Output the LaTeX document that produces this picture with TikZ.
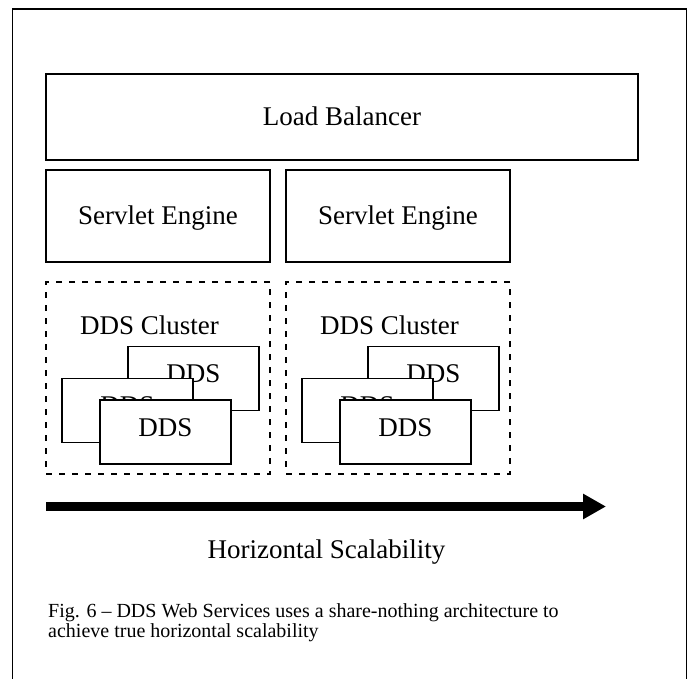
\documentclass[tikz,border=0pt]{standalone}
\usepackage{fontspec}
\setmainfont{Liberation Serif}
\usetikzlibrary{arrows.meta}
\tikzset{
	box/.style={draw, line width=1.3pt, inner sep=0pt, minimum width=224pt, minimum height=92pt, text height=18pt, text depth=0pt, font=\fontsize{27}{27}\selectfont},
	ddsbox/.style={box, fill=white, minimum width=131pt, minimum height=64pt, text depth=10pt},
	clusterbox/.style={draw, line width=1.3pt, dash pattern=on 6pt off 7pt, inner sep=0pt, minimum width=224pt, minimum height=192pt},
	txt/.style={inner sep=0pt, text height=18pt, text depth=0pt, font=\fontsize{27}{27}\selectfont}
}

\begin{document}
\begin{tikzpicture}[x=1pt, y=-1pt]
			%%%%% START %%%%%
			
			\useasboundingbox (0, 0) rectangle (693, 679);
			\draw[line width=1.3pt] (12.5, 679) -- (12.5, 9) -- (686.5, 9) -- (686.5, 679);
			
			\node[box, minimum width=592pt, minimum height=86pt] (balancer) at (342, 117) {Load Balancer};
			
			\node[box] (engineA) at (158, 216) {Servlet Engine};
			\node[box] (engineB) at (398, 216) {Servlet Engine};
			
			\node[clusterbox] (clusterA) at (158, 378) {};
			\node[txt] (clusternameA) at (149.5, 325) {DDS Cluster};
			\node[ddsbox] (ddsA1) at (193.5, 378.5) {DDS};
			\node[ddsbox] (ddsA2) at (127.5, 410.5) {DDS};
			\node[ddsbox] (ddsA3) at (165.5, 432) {DDS};
			
			\node[clusterbox] (clusterB) at (398, 378) {};
			\node[txt] (clusternameB) at (389.5, 325) {DDS Cluster};
			\node[ddsbox] (ddsB1) at (433.5, 378.5) {DDS};
			\node[ddsbox] (ddsB2) at (367.5, 410.5) {DDS};
			\node[ddsbox] (ddsB3) at (405.5, 432) {DDS};
			
			\coordinate (arrowstart) at (46, 506.5);
			\coordinate (arrowend) at (606, 506.5);
			\draw[line width=8.5pt, -{Triangle[length=23pt, width=24pt]}] (arrowstart) -- (arrowend);
			
			\node[txt] (scalability) at (326.5, 549) {Horizontal Scalability};
			
			\node[anchor=base west, inner sep=0pt, align=left, font=\fontsize{20}{20}\selectfont] (caption) at (48, 637) {Fig. 6 -- DDS Web Services uses a share-nothing architecture to\\achieve true horizontal scalability};
			
			%%%%% END %%%%%
\end{tikzpicture}
\end{document}
